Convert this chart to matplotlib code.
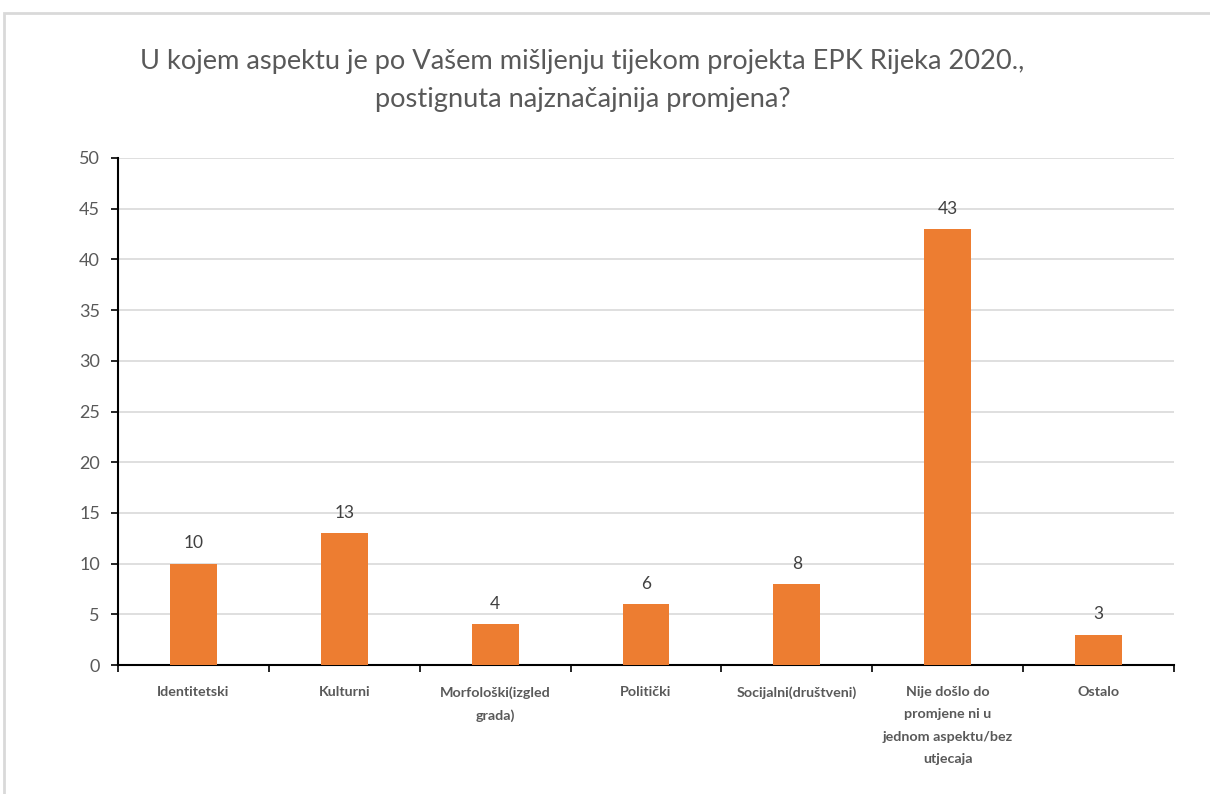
import matplotlib
matplotlib.use('Agg')
import matplotlib.pyplot as plt
from matplotlib.patches import Rectangle

categories = ['Identitetski', 'Kulturni', 'Morfološki(izgled\ngrada)', 'Politički',
              'Socijalni(društveni)', 'Nije došlo do\npromjene ni u\njednom aspektu/bez\nutjecaja', 'Ostalo']
values = [10, 13, 4, 6, 8, 43, 3]
title = 'U kojem aspektu je po Vašem mišljenju tijekom projekta EPK Rijeka 2020.,\npostignuta najznačajnija promjena?'

plt.rcParams['font.family'] = ['Lato', 'DejaVu Sans']

fig = plt.figure(figsize=(12.1, 7.94), dpi=100)
ax = fig.add_axes([118/1210, 1 - 665/794, (1174-118)/1210, (665-158)/794])

# chart frame
fig.patches.append(Rectangle((4/1210, -0.01), 1.0, 1 - 13/794 + 0.01, transform=fig.transFigure,
                             fill=False, edgecolor='#d9d9d9', lw=2))

x = range(len(values))
ax.bar(x, values, width=0.31, color='#ed7d31', zorder=3)
for xi, v in zip(x, values):
    ax.text(xi, v + 1.2, str(v), ha='center', va='bottom', fontsize=12.5, color='#404040')

ax.set_xlim(-0.5, len(values) - 0.5)
ax.set_ylim(0, 50)
ax.set_yticks(range(0, 51, 5))
ax.yaxis.grid(True, color='#d9d9d9', lw=1.2, zorder=0)
ax.tick_params(axis='y', labelsize=13, labelcolor='#595959', length=5, width=1.2, pad=8)

ax.set_xticks([i - 0.5 for i in range(len(values) + 1)], minor=False)
ax.set_xticklabels([])
ax.tick_params(axis='x', length=5, width=1.2)
ax.set_xticks(list(x), minor=True)
ax.set_xticklabels(categories, minor=True, fontsize=10.3, fontweight='bold', color='#595959',
                   va='top', linespacing=2.05)
ax.tick_params(axis='x', which='minor', length=0, pad=15)

for s in ['top', 'right']:
    ax.spines[s].set_visible(False)
for s in ['left', 'bottom']:
    ax.spines[s].set_linewidth(1.5)
    ax.spines[s].set_color('black')

fig.text(0.4815, 1 - 81/794, title, ha='center', va='center', fontsize=19.6, color='#595959',
         linespacing=1.65)

fig.savefig('out.png', dpi=100)
